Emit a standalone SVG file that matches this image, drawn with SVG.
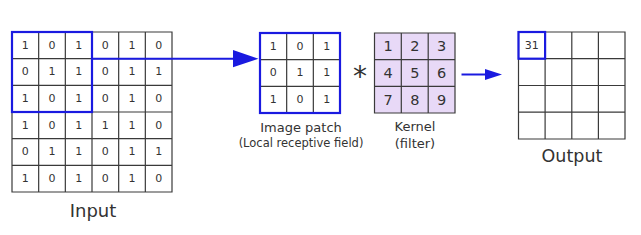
<svg xmlns="http://www.w3.org/2000/svg" width="641" height="235" viewBox="0 0 641 235">
<style>
.grid{fill:none;stroke:#3a3a3a;stroke-width:1.2}
.blue{fill:none;stroke:#1a1ae0;stroke-width:2.2}
.num{font-family:"DejaVu Sans",sans-serif;font-size:11px;fill:#333;text-anchor:middle}
.knum{font-family:"DejaVu Sans",sans-serif;font-size:14.5px;fill:#333;text-anchor:middle}
.lbl{font-family:"DejaVu Sans",sans-serif;fill:#333;text-anchor:middle}
.conn{stroke:#1a1ae0;stroke-width:2;fill:none}
.head{fill:#1a1ae0}
</style>
<rect width="641" height="235" fill="#ffffff"/>
<g id="input">
<path class="grid" d="M12,32H172V192H12Z M38.67,32V192 M65.33,32V192 M92,32V192 M118.67,32V192 M145.33,32V192 M12,58.67H172 M12,85.33H172 M12,112H172 M12,138.67H172 M12,165.33H172"/>
<g class="num">
<text x="25.3" y="48.7">1</text><text x="52" y="48.7">0</text><text x="78.7" y="48.7">1</text><text x="105.3" y="48.7">0</text><text x="132" y="48.7">1</text><text x="158.7" y="48.7">0</text>
<text x="25.3" y="75.3">0</text><text x="52" y="75.3">1</text><text x="78.7" y="75.3">1</text><text x="105.3" y="75.3">0</text><text x="132" y="75.3">1</text><text x="158.7" y="75.3">1</text>
<text x="25.3" y="102">1</text><text x="52" y="102">0</text><text x="78.7" y="102">1</text><text x="105.3" y="102">0</text><text x="132" y="102">1</text><text x="158.7" y="102">0</text>
<text x="25.3" y="128.7">1</text><text x="52" y="128.7">0</text><text x="78.7" y="128.7">1</text><text x="105.3" y="128.7">1</text><text x="132" y="128.7">1</text><text x="158.7" y="128.7">0</text>
<text x="25.3" y="155.3">0</text><text x="52" y="155.3">1</text><text x="78.7" y="155.3">1</text><text x="105.3" y="155.3">0</text><text x="132" y="155.3">1</text><text x="158.7" y="155.3">1</text>
<text x="25.3" y="182">1</text><text x="52" y="182">0</text><text x="78.7" y="182">1</text><text x="105.3" y="182">0</text><text x="132" y="182">1</text><text x="158.7" y="182">0</text>
</g>
<rect class="blue" x="12" y="32" width="80" height="80"/>
<text class="lbl" x="93" y="217" font-size="18">Input</text>
</g>
<g id="patch">
<path class="grid" d="M260,33H340V113H260Z M286.67,33V113 M313.33,33V113 M260,59.67H340 M260,86.33H340"/>
<g class="num">
<text x="273.3" y="49.7">1</text><text x="300" y="49.7">0</text><text x="326.7" y="49.7">1</text>
<text x="273.3" y="76.3">0</text><text x="300" y="76.3">1</text><text x="326.7" y="76.3">1</text>
<text x="273.3" y="103">1</text><text x="300" y="103">0</text><text x="326.7" y="103">1</text>
</g>
<rect class="blue" x="260" y="33" width="80" height="80"/>
<text class="lbl" x="301" y="132" font-size="13">Image patch</text>
<text class="lbl" x="301" y="146.5" font-size="11.5">(Local receptive field)</text>
</g>
<g id="operator">
<text class="lbl" x="360" y="86" font-size="28">*</text>
</g>
<g id="kernel">
<rect x="374.5" y="33" width="80.5" height="80" fill="#e8d9f7"/>
<path class="grid" d="M374.5,33H455V113H374.5Z M401.3,33V113 M428.2,33V113 M374.5,59.67H455 M374.5,86.33H455"/>
<g class="knum">
<text x="388" y="51.3">1</text><text x="414.8" y="51.3">2</text><text x="441.6" y="51.3">3</text>
<text x="388" y="78">4</text><text x="414.8" y="78">5</text><text x="441.6" y="78">6</text>
<text x="388" y="104.7">7</text><text x="414.8" y="104.7">8</text><text x="441.6" y="104.7">9</text>
</g>
<text class="lbl" x="415" y="131" font-size="13">Kernel</text>
<text class="lbl" x="415" y="148" font-size="13">(filter)</text>
</g>
<g id="output">
<path class="grid" d="M518.5,32H625V139H518.5Z M545.1,32V139 M571.8,32V139 M598.4,32V139 M518.5,58.7H625 M518.5,85.5H625 M518.5,112.2H625"/>
<text class="num" x="531.8" y="49">31</text>
<rect class="blue" x="518.5" y="32" width="26.6" height="26.7"/>
<text class="lbl" x="572" y="162" font-size="17.5">Output</text>
</g>
<g id="connectors">
<path class="conn" d="M92,58.67H235"/>
<polygon class="head" points="233,50 258.5,58.67 233,67.3"/>
<path class="conn" d="M461.5,74.5H487"/>
<polygon class="head" points="485,69 502,74.5 485,80"/>
</g>
</svg>
